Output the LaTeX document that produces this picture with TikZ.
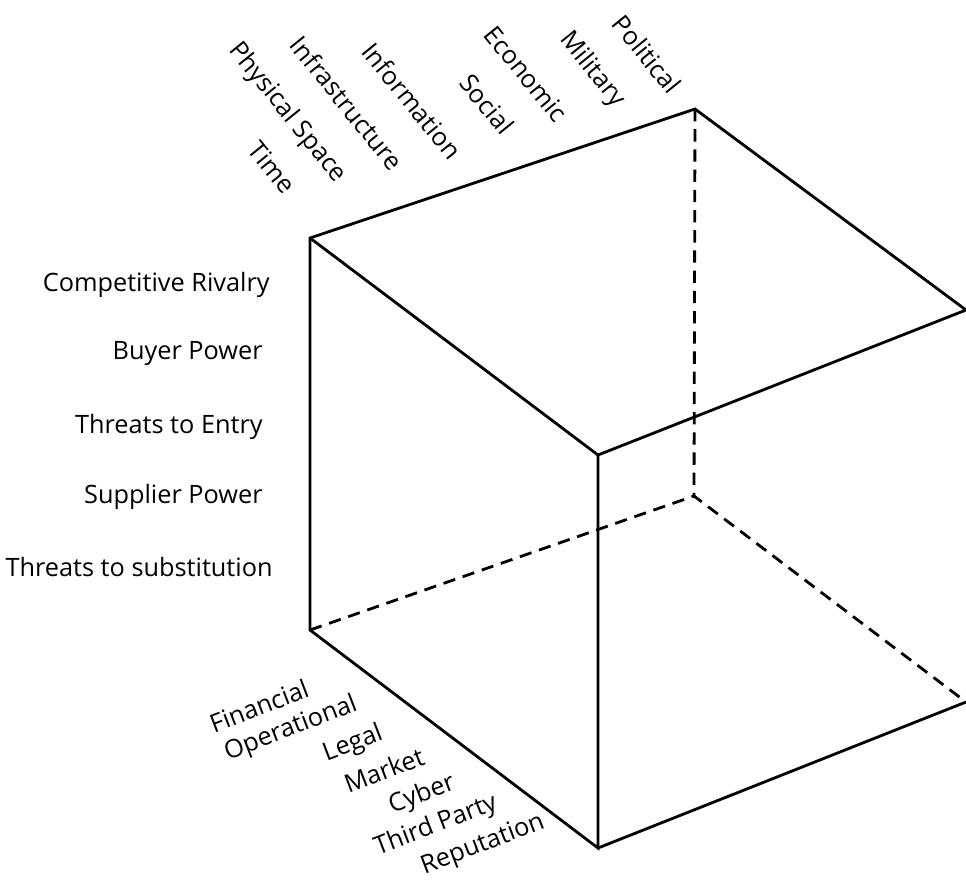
\documentclass[tikz,border=0pt]{standalone}
\usepackage{fontspec}
\setmainfont{Open Sans}
\usepackage{tikz}
\usetikzlibrary{positioning}

\begin{document}
\begin{tikzpicture}[
        x=0.02cm, y=-0.02cm,
        font=\fontsize{14.4}{16}\selectfont,
        % cube edges
        edge/.style={line width=1.6pt, line join=miter},
        hidden/.style={edge, dash pattern=on 7pt off 4.5pt},
        % labels
        sidelbl/.style={anchor=east, inner sep=0pt},
        toplbl/.style={rotate=-51, inner sep=0pt},
        botlbl/.style={rotate=21, inner sep=0pt}
    ]
    \useasboundingbox (0,0) rectangle (966,880);

    % ====================
    % Cube corners
    % ====================
    \coordinate (FTL) at (310,238);
    \coordinate (FTR) at (598,455);
    \coordinate (FBL) at (310,630);
    \coordinate (FBR) at (598,848);
    \coordinate (BTL) at (695,109);
    \coordinate (BTR) at (966,310);
    \coordinate (BBL) at (694,496);
    \coordinate (BBR) at (966,702);

    % visible edges
    \draw[edge] (FBL) -- (FTL) -- (BTL) -- (BTR) -- (FTR) -- (FBR) -- cycle;
    \draw[edge] (FTL) -- (FTR);
    \draw[edge] (FBR) -- (BBR);

    % hidden edges
    \draw[hidden] (BTL) -- (BBL);
    \draw[hidden] (FBL) -- (BBL) -- (BBR);

    % ====================
    % Left labels
    % ====================
    \node[sidelbl] (rivalry) at (270,285) {Competitive Rivalry};
    \node[sidelbl] (buyer)   at (263,353) {Buyer Power};
    \node[sidelbl] (entry)   at (263,427) {Threats to Entry};
    \node[sidelbl] (supply)  at (263,497) {Supplier Power};
    \node[sidelbl] (subst)   at (273,567) {Threats to substitution};

    % ====================
    % Top labels
    % ====================
    \node[toplbl] (time)     at (272,167) {Time};
    \node[toplbl] (physical) at (287,113) {Physical Space};
    \node[toplbl] (infra)    at (347,103) {Infrastructure};
    \node[toplbl] (info)     at (412,101) {Information};
    \node[toplbl] (social)   at (487,104) {Social};
    \node[toplbl] (econ)     at (526,74)  {Economic};
    \node[toplbl] (military) at (592,70)  {Military};
    \node[toplbl] (politic)  at (647,54)  {Political};

    % ====================
    % Bottom labels
    % ====================
    \node[botlbl] (financial) at (259,706) {Financial};
    \node[botlbl] (operation) at (291,729) {Operational};
    \node[botlbl] (legal)     at (353,744) {Legal};
    \node[botlbl] (market)    at (384,770) {Market};
    \node[botlbl] (cyber)     at (422,795) {Cyber};
    \node[botlbl] (third)     at (436,826) {Third Party};
    \node[botlbl] (reput)     at (483,845) {Reputation};

\end{tikzpicture}
\end{document}
